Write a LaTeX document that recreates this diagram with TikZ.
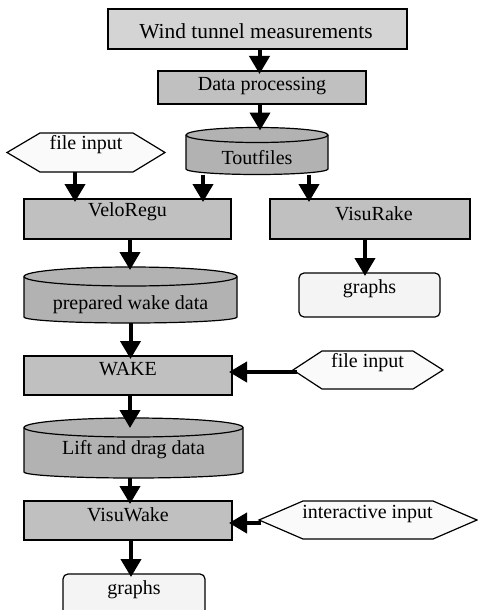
\documentclass[tikz,border=0pt]{standalone}
\usepackage{fontspec}
\setmainfont{Liberation Serif}
\usetikzlibrary{arrows.meta}
\definecolor{windgray}{HTML}{D4D4D4}
\definecolor{boxgray}{HTML}{C0C0C0}
\definecolor{cylgray}{HTML}{B2B2B2}
\definecolor{hexwhite}{HTML}{FAFAFA}
\definecolor{outwhite}{HTML}{F4F4F4}
% cylinder drawn on a ghost node: name, x radius, top y radius, bottom y radius
\newcommand\mycyl[4]{%
  \filldraw[cylstyle] ([yshift=-#3]#1.north west) -- ([yshift=#4]#1.south west)
    arc[start angle=180,end angle=360,x radius=#2,y radius=#4]
    -- ([yshift=-#3]#1.north east)
    arc[start angle=0,end angle=180,x radius=#2,y radius=#3] -- cycle;
  \draw[cylstyle,fill=none] ([yshift=-#3]#1.north west)
    arc[start angle=180,end angle=360,x radius=#2,y radius=#3];}
% hexagon drawn on a ghost node: name, left run, right run
\newcommand\myhex[3]{%
  \filldraw[hexstyle] (#1.north west) -- (#1.north east) -- ([xshift=#3]#1.east)
    -- (#1.south east) -- (#1.south west) -- ([xshift=-#2]#1.west) -- cycle;
  \coordinate (#1-tip) at ([xshift=-#2]#1.west);}
\begin{document}
\begin{tikzpicture}[x=1pt,y=-1pt,
  font=\fontsize{20}{24}\selectfont,
  outline/.style={draw=black, line width=1.2pt, inner sep=0pt, outer sep=0pt},
  procbox/.style={outline, rectangle, fill=boxgray},
  outbox/.style={outline, rectangle, rounded corners=5pt, fill=outwhite},
  ghost/.style={rectangle, draw=none, fill=none, inner sep=0pt, outer sep=0pt},
  cylstyle/.style={draw=black, line width=1.2pt, fill=cylgray},
  hexstyle/.style={draw=black, line width=1.2pt, fill=hexwhite, line join=miter},
  lbl/.style={anchor=base, inner sep=0pt, outer sep=0pt},
  flow/.style={line width=4pt, -{Triangle[length=18pt,width=20pt]}, shorten >=-3pt}]
\useasboundingbox (0,0) rectangle (478,610);
\clip (0,0) rectangle (478,610);

% process boxes and output boxes
\node[procbox, fill=windgray, minimum width=299pt, minimum height=40pt] (wind) at (257.5,29) {};
\node[procbox, minimum width=208pt, minimum height=33pt] (proc) at (262,87.5) {};
\node[procbox, minimum width=207pt, minimum height=40pt] (velo) at (127.5,219) {};
\node[procbox, minimum width=200pt, minimum height=40pt] (rake) at (370,219) {};
\node[outbox, minimum width=141pt, minimum height=44pt] (graphsA) at (369.5,295) {};
\node[procbox, minimum width=208pt, minimum height=39pt] (wake) at (128,375.5) {};
\node[procbox, minimum width=208pt, minimum height=39pt] (visu) at (128,520.5) {};
\node[outbox, minimum width=142pt, minimum height=50pt] (graphsB) at (134,599) {};

% cylinders (data stores)
\node[ghost, minimum width=142pt, minimum height=47pt] (tout) at (257,151) {};
\node[ghost, minimum width=213pt, minimum height=56pt] (prep) at (130.5,295) {};
\node[ghost, minimum width=219pt, minimum height=60pt] (lift) at (133.5,448) {};
\mycyl{tout}{71pt}{7.5pt}{5.5pt}
\mycyl{prep}{106.5pt}{9.5pt}{6pt}
\mycyl{lift}{109.5pt}{9.5pt}{6pt}

% hexagons (inputs)
\node[ghost, minimum width=93pt, minimum height=39pt] (finA) at (86.5,152.5) {};
\node[ghost, minimum width=91pt, minimum height=38pt] (finB) at (367.5,370) {};
\node[ghost, minimum width=130pt, minimum height=38pt] (inter) at (368,520) {};
\myhex{finA}{33pt}{32pt}
\myhex{finB}{29pt}{30pt}
\myhex{inter}{44pt}{44pt}

% texts
\node[lbl, font=\fontsize{21.4}{25}\selectfont] (t-wind) at (256,38) {Wind tunnel measurements};
\node[lbl] (t-proc) at (262,90) {Data processing};
\node[lbl] (t-tout) at (257,164) {Toutfiles};
\node[lbl] (t-finA) at (86,149) {file input};
\node[lbl] (t-velo) at (127.5,216) {VeloRegu};
\node[lbl] (t-rake) at (374,220) {VisuRake};
\node[lbl] (t-gA) at (369.5,293) {graphs};
\node[lbl] (t-prep) at (130.5,309) {prepared wake data};
\node[lbl] (t-wake) at (128,375) {WAKE};
\node[lbl] (t-finB) at (367.5,367) {file input};
\node[lbl] (t-lift) at (133.5,454) {Lift and drag data};
\node[lbl] (t-visu) at (128,521) {VisuWake};
\node[lbl] (t-inter) at (367.5,518) {interactive input};
\node[lbl] (t-gB) at (134,594) {graphs};

% connectors
\draw[flow] ([xshift=2pt]wind.south) -- ([xshift=2pt]wind.south |- proc.north);
\draw[flow] ([xshift=-2pt]proc.south) -- ([xshift=-2pt]proc.south |- tout.north);
\draw[flow] ([xshift=-11.5pt]finA.south) -- ([xshift=-11.5pt]finA.south |- velo.north);
\draw[flow] ([xshift=-54pt]tout.south) -- ([xshift=-54pt]tout.south |- velo.north);
\draw[flow] ([xshift=52pt]tout.south) -- ([xshift=52pt]tout.south |- rake.north);
\draw[flow] ([xshift=-5pt]rake.south) -- ([xshift=-5pt]rake.south |- graphsA.north);
\draw[flow] ([xshift=2.5pt]velo.south) -- ([xshift=2.5pt]velo.south |- prep.north);
\draw[flow] (prep.south) -- (prep.south |- wake.north);
\coordinate (aB) at ([xshift=4pt,yshift=-2pt]finB-tip);
\draw[flow] (aB) -- (aB -| wake.east);
\draw[flow, shorten >=-10pt] ([xshift=2pt]wake.south) -- ([xshift=2pt]wake.south |- lift.north);
\draw[flow] ([xshift=-3.5pt]lift.south) -- ([xshift=-3.5pt]lift.south |- visu.north);
\coordinate (aI) at ([xshift=2pt,yshift=-3pt]inter-tip);
\draw[flow] (aI) -- (aI -| visu.east);
\draw[flow] ([xshift=3pt]visu.south) -- ([xshift=3pt]visu.south |- graphsB.north);
\end{tikzpicture}
\end{document}
